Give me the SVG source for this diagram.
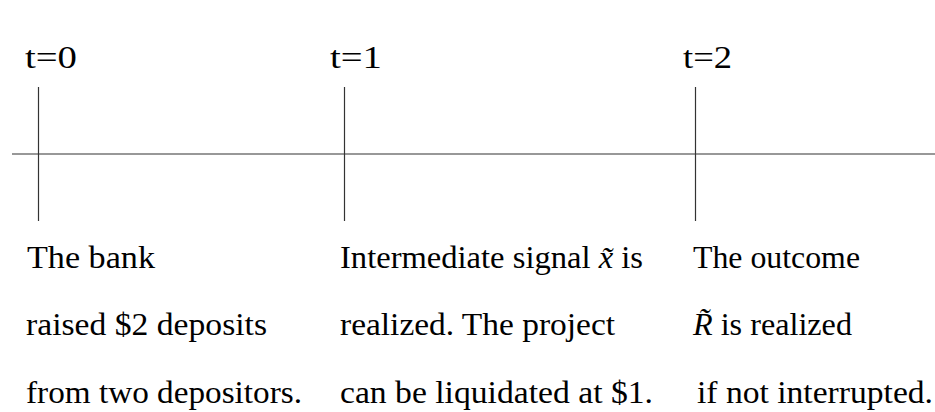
<svg xmlns="http://www.w3.org/2000/svg" width="935" height="412" viewBox="0 0 935 412">
<style>
text{font-family:"Liberation Serif","Times New Roman",serif;font-size:32px;fill:#000}
.m{font-style:italic}
line{stroke:#333;stroke-width:1.2}
</style>
<rect width="935" height="412" fill="#fff"/>
<g id="connectors">
<line x1="12" y1="154" x2="935" y2="154"/>
</g>
<g id="t0">
<text x="25" y="68" textLength="52" lengthAdjust="spacingAndGlyphs">t=0</text>
<line x1="38.5" y1="87" x2="38.5" y2="221"/>
<text x="27" y="268" textLength="128" lengthAdjust="spacingAndGlyphs">The bank</text>
<text x="26" y="335" textLength="241" lengthAdjust="spacingAndGlyphs">raised $2 deposits</text>
<text x="26" y="403" textLength="276" lengthAdjust="spacingAndGlyphs">from two depositors.</text>
</g>
<g id="t1">
<text x="330" y="68" textLength="52" lengthAdjust="spacingAndGlyphs">t=1</text>
<line x1="344.5" y1="87" x2="344.5" y2="221"/>
<text x="340" y="268" textLength="303" lengthAdjust="spacingAndGlyphs">Intermediate signal <tspan class="m">x̃</tspan> is</text>
<text x="340" y="335" textLength="275" lengthAdjust="spacingAndGlyphs">realized. The project</text>
<text x="340" y="403" textLength="313" lengthAdjust="spacingAndGlyphs">can be liquidated at $1.</text>
</g>
<g id="t2">
<text x="683" y="68" textLength="49" lengthAdjust="spacingAndGlyphs">t=2</text>
<line x1="695.5" y1="87" x2="695.5" y2="221"/>
<text x="693" y="268" textLength="167" lengthAdjust="spacingAndGlyphs">The outcome</text>
<text x="693" y="335" textLength="159" lengthAdjust="spacingAndGlyphs"><tspan class="m">R̃</tspan> is realized</text>
<text x="697" y="403" textLength="236" lengthAdjust="spacingAndGlyphs">if not interrupted.</text>
</g>
</svg>
